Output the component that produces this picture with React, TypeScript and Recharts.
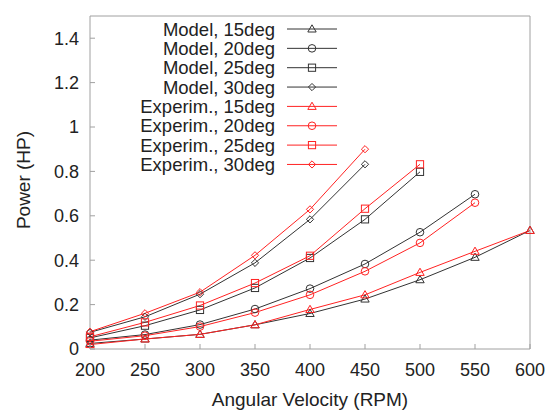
import React from "react";
import { LineChart, Line, XAxis, YAxis, Legend } from "recharts";

const rpm = [200, 250, 300, 350, 400, 450, 500, 550, 600];
const rpmTicks = [200, 250, 300, 350, 400, 450, 500, 550, 600];
const powerTicks = [0, 0.2, 0.4, 0.6, 0.8, 1, 1.2, 1.4];

// model curves (black)
const model15 = [0.025, 0.045, 0.066, 0.109, 0.16, 0.225, 0.312, 0.413, 0.534];
const model20 = [0.04, 0.065, 0.11, 0.18, 0.272, 0.383, 0.526, 0.697];
const model25 = [0.05, 0.105, 0.176, 0.275, 0.41, 0.584, 0.798];
const model30 = [0.075, 0.145, 0.247, 0.388, 0.584, 0.832];

// experimental curves (red)
const exp15 = [0.02, 0.045, 0.066, 0.109, 0.178, 0.244, 0.345, 0.44, 0.534];
const exp20 = [0.035, 0.06, 0.101, 0.164, 0.244, 0.35, 0.478, 0.659];
const exp25 = [0.055, 0.12, 0.196, 0.297, 0.42, 0.632, 0.832];
const exp30 = [0.078, 0.161, 0.256, 0.422, 0.629, 0.9];

const BLACK = "#333333";
const RED = "#ff2222";
const FRAME = "#a0a0a0";
const TEXT = "#222222";
const FONT = "'Liberation Sans', Arial, sans-serif";

const series = [
  { key: "m15", name: "Model, 15deg", values: model15, color: BLACK, shape: "triangle" },
  { key: "m20", name: "Model, 20deg", values: model20, color: BLACK, shape: "circle" },
  { key: "m25", name: "Model, 25deg", values: model25, color: BLACK, shape: "square" },
  { key: "m30", name: "Model, 30deg", values: model30, color: BLACK, shape: "diamond" },
  { key: "e15", name: "Experim., 15deg", values: exp15, color: RED, shape: "triangle" },
  { key: "e20", name: "Experim., 20deg", values: exp20, color: RED, shape: "circle" },
  { key: "e25", name: "Experim., 25deg", values: exp25, color: RED, shape: "square" },
  { key: "e30", name: "Experim., 30deg", values: exp30, color: RED, shape: "diamond" },
];

const data = rpm.map((r, i) => {
  const row: any = { rpm: r };
  series.forEach((s) => {
    row[s.key] = s.values[i];
  });
  return row;
});

const Marker = ({ shape, cx, cy, color }: any) => {
  if (shape === "triangle") {
    return (
      <polygon
        points={`${cx},${cy - 4.2} ${cx + 4.2},${cy + 3} ${cx - 4.2},${cy + 3}`}
        fill="none"
        stroke={color}
      />
    );
  }
  if (shape === "circle") {
    return <circle cx={cx} cy={cy} r={3.8} fill="none" stroke={color} />;
  }
  if (shape === "square") {
    return <rect x={cx - 3.6} y={cy - 3.6} width={7.2} height={7.2} fill="none" stroke={color} />;
  }
  return (
    <polygon
      points={`${cx},${cy - 3.6} ${cx + 3.6},${cy} ${cx},${cy + 3.6} ${cx - 3.6},${cy}`}
      fill="none"
      stroke={color}
    />
  );
};

const LeftTick = ({ x, y, payload }: any) => (
  <g>
    <line x1={x} x2={x + 5} y1={y} y2={y} stroke={FRAME} />
    <text x={x - 11} y={y + 6.4} textAnchor="end" fontSize={18} fontFamily={FONT} fill={TEXT}>
      {parseFloat(Number(payload.value).toFixed(1))}
    </text>
  </g>
);

const BottomTick = ({ x, y, payload }: any) => (
  <g>
    <line x1={x} x2={x} y1={y} y2={y - 5} stroke={FRAME} />
    <text x={x} y={y + 27} textAnchor="middle" fontSize={18} fontFamily={FONT} fill={TEXT}>
      {payload.value}
    </text>
  </g>
);

const LegendBox = () => (
  <svg width={345} height={180} style={{ display: "block" }}>
    {series.map((s, i) => {
      const y = 29 + i * 19.35;
      return (
        <g key={s.key}>
          <text x={275} y={y + 6.6} textAnchor="end" fontSize={18.5} fontFamily={FONT} fill={TEXT}>
            {s.name}
          </text>
          <line x1={287} x2={337} y1={y} y2={y} stroke={s.color} />
          <Marker shape={s.shape} cx={312} cy={y} color={s.color} />
        </g>
      );
    })}
  </svg>
);

const App = () => {
  return (
    <div style={{ position: "absolute", left: 0, top: 0, background: "#fff" }}>
      <LineChart width={557} height={412} data={data} margin={{ top: 16, right: 27, bottom: 0, left: 0 }}>
        <XAxis
          dataKey="rpm"
          type="number"
          domain={[200, 600]}
          ticks={rpmTicks}
          interval={0}
          height={63}
          tickSize={0}
          tickMargin={0}
          tickLine={false}
          tick={<BottomTick />}
          axisLine={{ stroke: FRAME }}
          label={{
            content: () => (
              <text x={310} y={406} textAnchor="middle" fontSize={19} fontFamily={FONT} fill={TEXT}>
                Angular Velocity (RPM)
              </text>
            ),
          }}
        />
        <XAxis
          xAxisId="top"
          dataKey="rpm"
          orientation="top"
          type="number"
          domain={[200, 600]}
          ticks={rpmTicks}
          interval={0}
          mirror
          tick={false}
          tickSize={5}
          tickLine={{ stroke: FRAME }}
          axisLine={{ stroke: FRAME }}
        />
        <YAxis
          type="number"
          domain={[0, 1.5]}
          ticks={powerTicks}
          interval={0}
          width={90}
          tickSize={0}
          tickMargin={0}
          tickLine={false}
          tick={<LeftTick />}
          axisLine={{ stroke: FRAME }}
          allowDataOverflow
          label={{
            content: () => (
              <text
                x={30}
                y={180}
                transform="rotate(-90 30 180)"
                textAnchor="middle"
                fontSize={19}
                fontFamily={FONT}
                fill={TEXT}
              >
                Power (HP)
              </text>
            ),
          }}
        />
        <YAxis
          yAxisId="right"
          orientation="right"
          type="number"
          domain={[0, 1.5]}
          ticks={powerTicks}
          interval={0}
          mirror
          tick={false}
          tickSize={5}
          tickLine={{ stroke: FRAME }}
          axisLine={{ stroke: FRAME }}
        />
        <Legend
          layout="vertical"
          align="center"
          verticalAlign="middle"
          content={<LegendBox />}
          wrapperStyle={{ position: "absolute", left: 0, top: 0, width: 345, height: 180 }}
        />
        {series.map((s) => (
          <Line
            key={s.key}
            dataKey={s.key}
            name={s.name}
            stroke={s.color}
            strokeWidth={1}
            isAnimationActive={false}
            dot={(p: any) =>
              p.cy == null || p.value == null ? (
                <g key={`${s.key}-${p.index}`} />
              ) : (
                <Marker key={`${s.key}-${p.index}`} shape={s.shape} cx={p.cx} cy={p.cy} color={s.color} />
              )
            }
            activeDot={false}
          />
        ))}
      </LineChart>
    </div>
  );
};

export default App;
